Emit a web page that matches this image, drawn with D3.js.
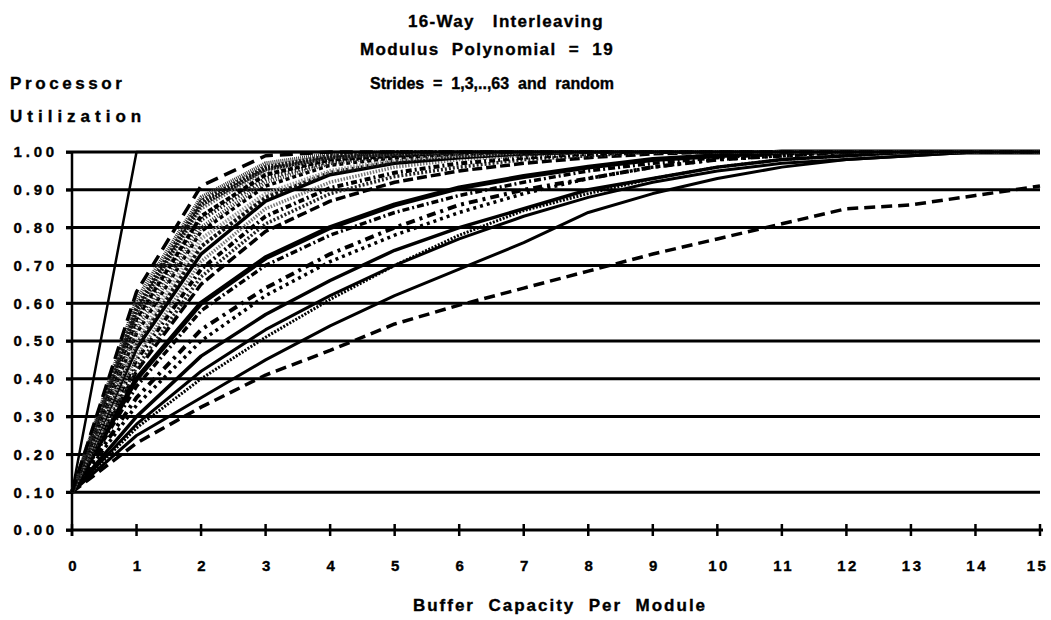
<!DOCTYPE html>
<html>
<head>
<meta charset="utf-8">
<script src="https://cdn.jsdelivr.net/npm/d3@7"></script>
<style>
  body { margin: 0; background: #fff; }
  text { font-family: "Liberation Sans", Arial, sans-serif; font-weight: bold; fill: #000; stroke: #000; stroke-width: 0.35px; white-space: pre; }
</style>
</head>
<body>
<svg id="chart" width="1051" height="620"></svg>
<script>
// buffer capacity per module (x categories) and utilization ticks
const bufferSizes = [0, 1, 2, 3, 4, 5, 6, 7, 8, 9, 10, 11, 12, 13, 14, 15];
const yTicks = [0, 0.1, 0.2, 0.3, 0.4, 0.5, 0.6, 0.7, 0.8, 0.9, 1.0];

// processor utilization, one array per stride curve
const cStraight = [0.10, 1.00, 1.00, 1.00, 1.00, 1.00, 1.00, 1.00, 1.00, 1.00, 1.00, 1.00, 1.00, 1.00, 1.00, 1.00];
const cEnvelope = [0.10, 0.63, 0.91, 0.99, 1.00, 1.00, 1.00, 1.00, 1.00, 1.00, 1.00, 1.00, 1.00, 1.00, 1.00, 1.00];
const cBand0 = [0.10, 0.61, 0.88, 0.97, 0.995, 1.00, 1.00, 1.00, 1.00, 1.00, 1.00, 1.00, 1.00, 1.00, 1.00, 1.00];
const cBand1 = [0.10, 0.59, 0.87, 0.96, 0.99, 1.00, 1.00, 1.00, 1.00, 1.00, 1.00, 1.00, 1.00, 1.00, 1.00, 1.00];
const cBand1b = [0.10, 0.58, 0.86, 0.955, 0.985, 0.995, 1.00, 1.00, 1.00, 1.00, 1.00, 1.00, 1.00, 1.00, 1.00, 1.00];
const cBand2 = [0.10, 0.57, 0.85, 0.95, 0.985, 0.995, 1.00, 1.00, 1.00, 1.00, 1.00, 1.00, 1.00, 1.00, 1.00, 1.00];
const cBand2b = [0.10, 0.56, 0.83, 0.94, 0.98, 0.99, 1.00, 1.00, 1.00, 1.00, 1.00, 1.00, 1.00, 1.00, 1.00, 1.00];
const cBand3 = [0.10, 0.55, 0.82, 0.93, 0.975, 0.99, 1.00, 1.00, 1.00, 1.00, 1.00, 1.00, 1.00, 1.00, 1.00, 1.00];
const cBand3b = [0.10, 0.53, 0.80, 0.92, 0.97, 0.99, 0.995, 1.00, 1.00, 1.00, 1.00, 1.00, 1.00, 1.00, 1.00, 1.00];
const cBand4 = [0.10, 0.52, 0.79, 0.91, 0.965, 0.985, 0.995, 1.00, 1.00, 1.00, 1.00, 1.00, 1.00, 1.00, 1.00, 1.00];
const cBand5 = [0.10, 0.50, 0.77, 0.89, 0.95, 0.98, 0.99, 1.00, 1.00, 1.00, 1.00, 1.00, 1.00, 1.00, 1.00, 1.00];
const cBand5b = [0.10, 0.49, 0.75, 0.88, 0.945, 0.975, 0.99, 0.995, 1.00, 1.00, 1.00, 1.00, 1.00, 1.00, 1.00, 1.00];
const cBand6 = [0.10, 0.48, 0.73, 0.87, 0.94, 0.97, 0.985, 0.995, 1.00, 1.00, 1.00, 1.00, 1.00, 1.00, 1.00, 1.00];
const cBand7 = [0.10, 0.46, 0.71, 0.85, 0.92, 0.96, 0.98, 0.99, 1.00, 1.00, 1.00, 1.00, 1.00, 1.00, 1.00, 1.00];
const cBand8 = [0.10, 0.45, 0.69, 0.83, 0.905, 0.945, 0.97, 0.985, 0.995, 1.00, 1.00, 1.00, 1.00, 1.00, 1.00, 1.00];
const cBand9 = [0.10, 0.43, 0.67, 0.81, 0.89, 0.935, 0.96, 0.98, 0.99, 1.00, 1.00, 1.00, 1.00, 1.00, 1.00, 1.00];
const cBand10 = [0.10, 0.42, 0.65, 0.79, 0.87, 0.92, 0.95, 0.97, 0.985, 0.995, 1.00, 1.00, 1.00, 1.00, 1.00, 1.00];
const cThick = [0.10, 0.40, 0.60, 0.72, 0.80, 0.86, 0.905, 0.935, 0.96, 0.98, 0.99, 1.00, 1.00, 1.00, 1.00, 1.00];
const cBand11 = [0.10, 0.38, 0.58, 0.70, 0.78, 0.84, 0.885, 0.92, 0.95, 0.97, 0.985, 0.995, 1.00, 1.00, 1.00, 1.00];
const cDashDot = [0.10, 0.35, 0.53, 0.64, 0.73, 0.80, 0.86, 0.90, 0.93, 0.96, 0.98, 0.99, 1.00, 1.00, 1.00, 1.00];
const cCross = [0.10, 0.33, 0.50, 0.62, 0.71, 0.78, 0.84, 0.89, 0.93, 0.96, 0.98, 0.99, 1.00, 1.00, 1.00, 1.00];
const cMid2 = [0.10, 0.30, 0.46, 0.57, 0.66, 0.74, 0.80, 0.85, 0.90, 0.93, 0.96, 0.98, 0.99, 1.00, 1.00, 1.00];
const cMid1 = [0.10, 0.28, 0.42, 0.53, 0.62, 0.70, 0.77, 0.83, 0.88, 0.92, 0.95, 0.97, 0.98, 0.99, 1.00, 1.00];
const cRings = [0.10, 0.27, 0.40, 0.51, 0.61, 0.70, 0.78, 0.845, 0.89, 0.93, 0.96, 0.98, 0.99, 1.00, 1.00, 1.00];
const cLow = [0.10, 0.25, 0.35, 0.45, 0.54, 0.62, 0.69, 0.76, 0.84, 0.89, 0.93, 0.96, 0.98, 0.99, 1.00, 1.00];
const cRandom = [0.10, 0.23, 0.325, 0.41, 0.475, 0.545, 0.595, 0.64, 0.685, 0.73, 0.77, 0.81, 0.85, 0.86, 0.885, 0.91];

const curves = [cRandom, cLow, cRings, cMid1, cMid2, cCross, cDashDot, cBand11, cThick,
  cBand10, cBand9, cBand8, cBand7, cBand6, cBand5b, cBand5, cBand4, cBand3b, cBand3,
  cBand2b, cBand2, cBand1b, cBand1, cBand0, cEnvelope, cStraight];

// line looks, in the same order as curves
const looks = [
  { w: 3.5, dash: "11,6", col: "#000" },
  { w: 3, dash: null, col: "#000" },
  { w: 3, dash: "2,1.5", col: "#000" },
  { w: 3, dash: null, col: "#000" },
  { w: 3.5, dash: null, col: "#000" },
  { w: 3.5, dash: "3,4", col: "#000" },
  { w: 4, dash: "9,5,3,5", col: "#000" },
  { w: 3.5, dash: "7,3,2,3", col: "#000" },
  { w: 5, dash: null, col: "#000" },
  { w: 3.5, dash: "10,4", col: "#000" },
  { w: 3.5, dash: "2,2", col: "#222" },
  { w: 4, dash: "6,3,2,3", col: "#000" },
  { w: 3.5, dash: "1.5,1.5", col: "#777" },
  { w: 3.5, dash: null, col: "#000" },
  { w: 4, dash: "3,2", col: "#111" },
  { w: 4, dash: "1.5,1.5", col: "#999" },
  { w: 3.5, dash: "4,3", col: "#000" },
  { w: 4, dash: "1,1.5", col: "#333" },
  { w: 4, dash: "1.5,2", col: "#222" },
  { w: 4, dash: "5,2", col: "#000" },
  { w: 3.5, dash: "1.5,1.5", col: "#666" },
  { w: 4, dash: "2,1", col: "#111" },
  { w: 4, dash: "2,1.5", col: "#111" },
  { w: 4, dash: "1,1", col: "#333" },
  { w: 3.5, dash: "13,7", col: "#000" },
  { w: 2.5, dash: null, col: "#000" }
];

const svg = d3.select("#chart");
const x = d3.scaleLinear().domain([0, 15]).range([72, 1040]);
const y = d3.scaleLinear().domain([0, 1]).range([530, 152]);

// titles
const titles = [
  { t: "16-Way   Interleaving", x: 506, y: 27, ls: 1.3, fs: 17 },
  { t: "Modulus  Polynomial  =  19", x: 487, y: 55, ls: 1.4, fs: 17 },
  { t: "Strides  =  1,3,..,63  and  random", x: 492, y: 89, ls: 0, fs: 16 }
];
svg.selectAll(".title").data(titles).enter().append("text")
  .attr("class", "title")
  .attr("x", d => d.x).attr("y", d => d.y)
  .attr("text-anchor", "middle")
  .style("font-size", d => d.fs + "px")
  .style("letter-spacing", d => d.ls + "px")
  .text(d => d.t);

svg.append("text").attr("x", 10).attr("y", 89)
  .style("font-size", "17px").style("letter-spacing", "3.6px").text("Processor");
svg.append("text").attr("x", 10).attr("y", 122)
  .style("font-size", "17px").style("letter-spacing", "5px").text("Utilization");

// horizontal grid lines
svg.selectAll(".grid").data(yTicks.slice(1)).enter().append("line")
  .attr("class", "grid")
  .attr("x1", x(0) - 6).attr("x2", x(15))
  .attr("y1", d => y(d)).attr("y2", d => y(d))
  .style("stroke", "#000").style("stroke-width", 3);

// y axis
const yAxis = d3.axisLeft(y).tickValues(yTicks).tickFormat(d3.format(".2f")).tickSize(6).tickPadding(8);
const gy = svg.append("g").attr("transform", "translate(" + x(0) + ",0)").call(yAxis);
gy.select(".domain").remove();
gy.selectAll(".tick line").style("stroke", "#000").style("stroke-width", 2.5);
gy.selectAll("text").style("font-size", "15px").style("letter-spacing", "3.8px")
  .style("font-family", "'Liberation Sans', Arial, sans-serif");
svg.append("line")
  .attr("x1", x(0)).attr("x2", x(0))
  .attr("y1", y(1)).attr("y2", y(0) + 6)
  .style("stroke", "#000").style("stroke-width", 2.5);

// x axis
const xAxis = d3.axisBottom(x).tickValues(bufferSizes).tickFormat(d3.format("d")).tickSize(0).tickPadding(30);
const gx = svg.append("g").attr("transform", "translate(0," + y(0) + ")").call(xAxis);
gx.select(".domain").remove();
gx.selectAll("text").style("font-size", "15px").style("letter-spacing", "2.5px")
  .attr("dx", "1.2px")
  .style("font-family", "'Liberation Sans', Arial, sans-serif");
gx.selectAll("text").filter(d => d === 15).attr("dx", "-3px");
svg.append("line")
  .attr("x1", x(0) - 6).attr("x2", x(15) + 3)
  .attr("y1", y(0)).attr("y2", y(0))
  .style("stroke", "#000").style("stroke-width", 3);
svg.selectAll(".xtick").data(bufferSizes).enter().append("line")
  .attr("class", "xtick")
  .attr("x1", d => x(d)).attr("x2", d => x(d))
  .attr("y1", y(0) - 6).attr("y2", y(0) + 6)
  .style("stroke", "#000").style("stroke-width", 2.5);

svg.append("text")
  .attr("x", 560).attr("y", 611)
  .attr("text-anchor", "middle")
  .style("font-size", "17px").style("letter-spacing", "2px")
  .text("Buffer  Capacity  Per  Module");

// curves
const line = d3.line()
  .x((d, i) => x(bufferSizes[i]))
  .y(d => y(d));

svg.selectAll(".curve").data(curves).enter().append("path")
  .attr("class", "curve")
  .attr("d", line)
  .style("fill", "none")
  .style("stroke", (d, i) => looks[i].col)
  .style("stroke-width", (d, i) => looks[i].w)
  .style("stroke-dasharray", (d, i) => looks[i].dash)
  .style("stroke-linejoin", "round");
</script>
</body>
</html>
